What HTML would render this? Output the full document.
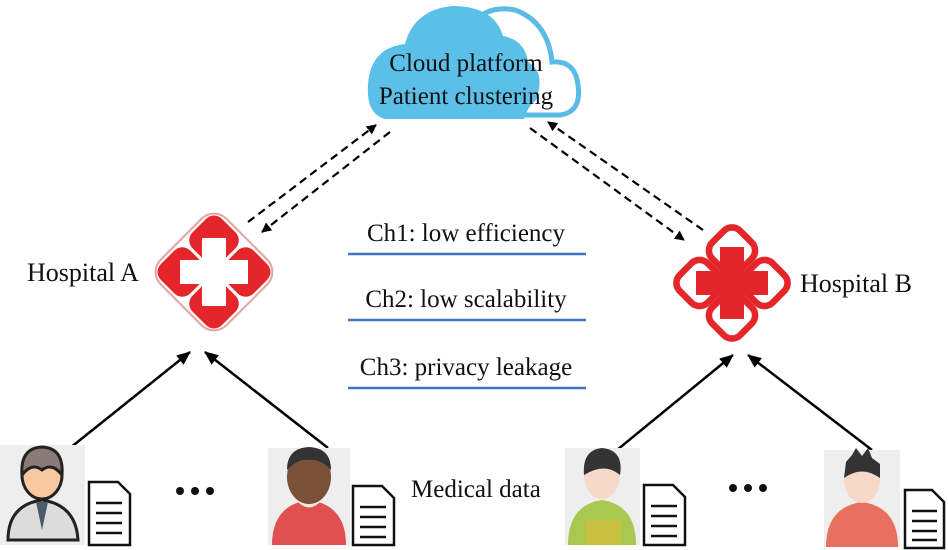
<!DOCTYPE html>
<html><head><meta charset="utf-8"><style>
body{margin:0;background:#fff;}
svg{display:block}
text{font-family:"Liberation Serif",serif;fill:#111}
</style></head><body>
<svg width="948" height="550" viewBox="0 0 948 550" xmlns="http://www.w3.org/2000/svg">
<defs>
<marker id="ah" markerWidth="10" markerHeight="10" refX="9" refY="5" orient="auto" markerUnits="userSpaceOnUse"><path d="M0,0 L10,5 L0,10 z" fill="#000"/></marker>
<marker id="ah2" markerWidth="14" markerHeight="12" refX="13" refY="6" orient="auto" markerUnits="userSpaceOnUse"><path d="M0,0 L14,6 L0,12 z" fill="#000"/></marker>
</defs>
<path d="M470,115 L560,115 Q582,112 578,85 Q575,60 552,62 Q548,22 515,10 Q485,4 470,28" fill="#fff" stroke="#5bbbe6" stroke-width="5"/>
<path d="M385,119 Q366,114 368,85 Q370,48 405,44 Q414,10 452,6 Q494,6 503,36 Q525,40 528,62 Q546,72 536,100 Q528,106 524,119 Z" fill="#5bbfe8"/>
<text x="466" y="71" font-size="25" text-anchor="middle">Cloud platform</text>
<text x="466" y="104" font-size="25" text-anchor="middle">Patient clustering</text>
<g stroke="#000" stroke-width="2.2" stroke-dasharray="8,5" fill="none">
<line x1="248" y1="222" x2="376" y2="125" marker-end="url(#ah)"/>
<line x1="390" y1="132" x2="262" y2="232" marker-end="url(#ah)"/>
<line x1="530" y1="128" x2="684" y2="240" marker-end="url(#ah)"/>
<line x1="703" y1="230" x2="548" y2="122" marker-end="url(#ah)"/>
</g>
<g transform="translate(214,272) scale(0.8) rotate(45)">
<rect x="-58" y="-58" width="116" height="116" rx="22" fill="none" stroke="#e8a0a0" stroke-width="2.5"/>
<rect x="-54" y="-54" width="52" height="52" rx="14" fill="#e4262b"/>
<rect x="2" y="-54" width="52" height="52" rx="14" fill="#e4262b"/>
<rect x="-54" y="2" width="52" height="52" rx="14" fill="#e4262b"/>
<rect x="2" y="2" width="52" height="52" rx="14" fill="#e4262b"/>
</g>
<g transform="translate(214,272)" fill="#fff"><rect x="-34" y="-12" width="68" height="24"/><rect x="-12" y="-34" width="24" height="68"/></g>
<text x="27" y="281" font-size="26">Hospital A</text>
<g transform="translate(732,283) scale(0.82) rotate(45)" fill="#fff" stroke="#e4262b" stroke-width="8">
<rect x="-52" y="-52" width="48" height="48" rx="14"/>
<rect x="4" y="-52" width="48" height="48" rx="14"/>
<rect x="-52" y="4" width="48" height="48" rx="14"/>
<rect x="4" y="4" width="48" height="48" rx="14"/>
</g>
<g transform="translate(732,283)" fill="#e4262b"><rect x="-36" y="-12" width="72" height="24"/><rect x="-12" y="-36" width="24" height="72"/></g>
<text x="800" y="292" font-size="26">Hospital B</text>
<text x="466" y="241" font-size="25" text-anchor="middle">Ch1: low efficiency</text>
<line x1="348" y1="254" x2="586" y2="254" stroke="#4472c4" stroke-width="2.5"/>
<text x="466" y="307" font-size="25" text-anchor="middle">Ch2: low scalability</text>
<line x1="348" y1="320" x2="586" y2="320" stroke="#4472c4" stroke-width="2.5"/>
<text x="466" y="375" font-size="25" text-anchor="middle">Ch3: privacy leakage</text>
<line x1="348" y1="388" x2="586" y2="388" stroke="#4472c4" stroke-width="2.5"/>
<g stroke="#000" stroke-width="2.5">
<line x1="70" y1="448" x2="190" y2="352" marker-end="url(#ah2)"/>
<line x1="328" y1="448" x2="205" y2="352" marker-end="url(#ah2)"/>
<line x1="617" y1="450" x2="733" y2="355" marker-end="url(#ah2)"/>
<line x1="872" y1="450" x2="748" y2="355" marker-end="url(#ah2)"/>
</g>
<rect x="0" y="445" width="85" height="100" fill="#eeeeee"/>
<path d="M8,540 Q8,505 42,500 Q76,505 78,540 Z" fill="#dcdcdc" stroke="#222" stroke-width="3"/>
<path d="M36,502 L42,530 L48,502 Z" fill="#4a5a6a"/>
<ellipse cx="42" cy="475" rx="20" ry="24" fill="#f8c9a0" stroke="#222" stroke-width="3"/>
<path d="M22,475 Q20,448 42,447 Q64,448 62,475 Q52,462 42,470 Q32,462 22,475Z" fill="#8a7a78" stroke="#222" stroke-width="3"/>
<rect x="268" y="448" width="82" height="97" fill="#eeeeee"/>
<path d="M272,545 Q272,505 309,500 Q346,505 346,545 Z" fill="#e05050"/>
<path d="M296,500 Q309,515 322,500 Z" fill="#f0e8e0"/>
<ellipse cx="309" cy="477" rx="22" ry="27" fill="#7a5038"/>
<path d="M287,470 Q287,448 309,447 Q331,448 331,470 Q320,458 309,460 Q298,458 287,470Z" fill="#333"/>
<rect x="565" y="448" width="75" height="97" fill="#eeeeee"/>
<path d="M568,545 Q568,505 602,500 Q636,505 636,545 Z" fill="#a8c850"/>
<rect x="585" y="520" width="36" height="25" fill="#c8c040"/>
<ellipse cx="602" cy="475" rx="18" ry="24" fill="#f8d8c8"/>
<path d="M584,475 Q582,450 602,448 Q624,450 620,475 Q605,462 584,475Z" fill="#333"/>
<rect x="824" y="450" width="76" height="97" fill="#eeeeee"/>
<path d="M826,547 Q826,507 862,502 Q898,507 898,547 Z" fill="#e87060"/>
<ellipse cx="862" cy="480" rx="18" ry="23" fill="#f8d8c8"/>
<path d="M844,478 L846,462 L852,455 L856,448 L862,456 L868,448 L872,458 L880,464 L880,478 Q862,465 844,478Z" fill="#333"/>
<g fill="#fff" stroke="#111" stroke-width="2.5">
<path d="M89,482 L118,482 L130,494 L130,545 L89,545 Z"/>
<path d="M353,486 L382,486 L394,498 L394,545 L353,545 Z"/>
<path d="M644,485 L673,485 L685,497 L685,545 L644,545 Z"/>
<path d="M905,490 L932,490 L944,502 L944,548 L905,548 Z"/>
</g>
<g stroke="#111" stroke-width="2.5">
<path d="M96,503h26M96,513h26M96,523h26M96,533h26"/>
<path d="M360,507h26M360,517h26M360,527h26M360,537h26"/>
<path d="M651,506h26M651,516h26M651,526h26M651,536h26"/>
<path d="M912,511h25M912,521h25M912,531h25M912,540h25"/>
</g>
<g fill="#111">
<circle cx="180" cy="491" r="4"/><circle cx="195" cy="491" r="4"/><circle cx="210" cy="491" r="4"/>
<circle cx="733" cy="488" r="4"/><circle cx="748" cy="488" r="4"/><circle cx="763" cy="488" r="4"/>
</g>
<text x="411" y="497" font-size="25">Medical data</text>
</svg>
</body></html>
